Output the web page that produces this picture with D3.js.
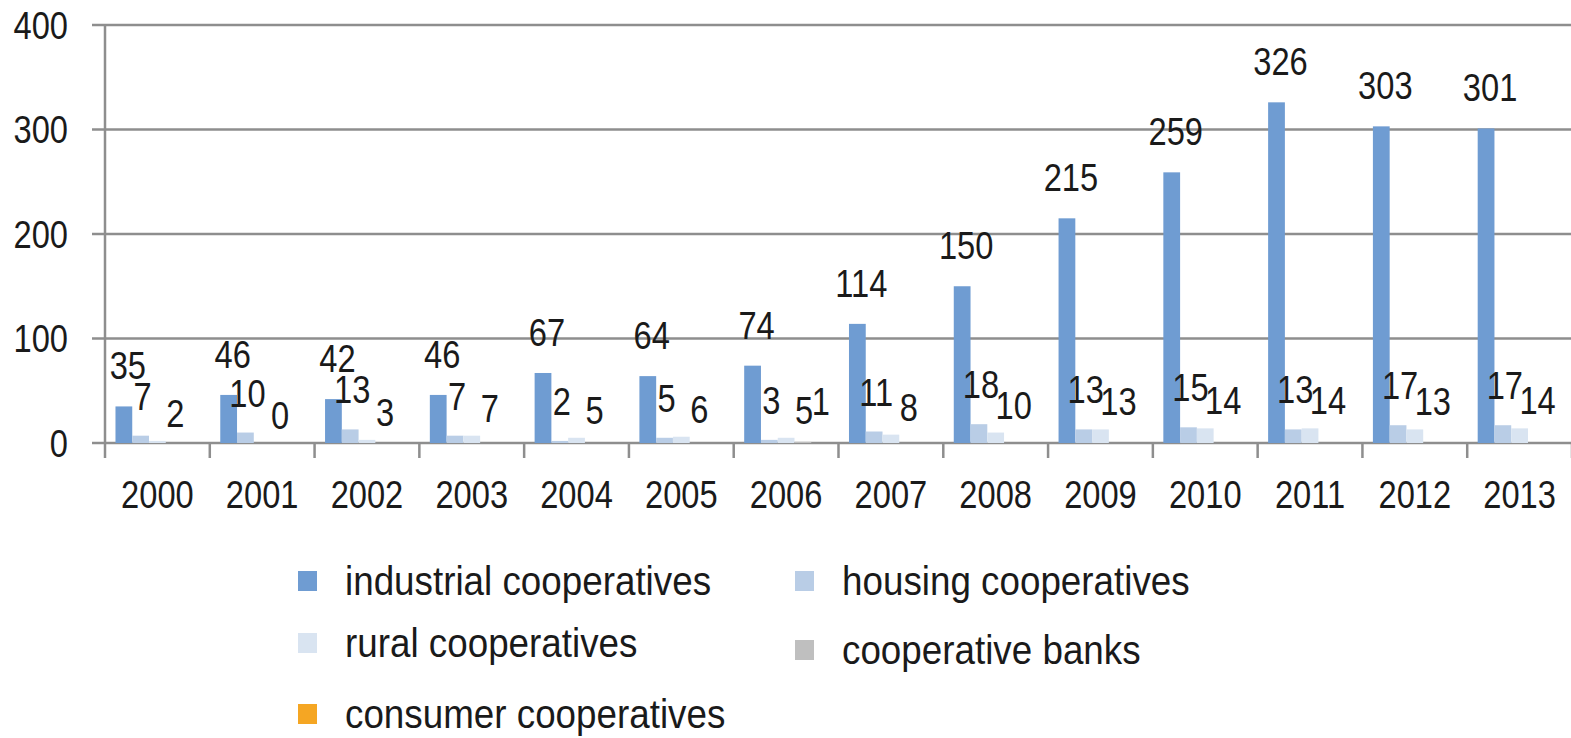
<!DOCTYPE html>
<html>
<head>
<meta charset="utf-8">
<script src="https://cdn.jsdelivr.net/npm/d3@7"></script>
<style>
  body { margin: 0; background: #fff; }
  svg text { font-family: "Liberation Sans", Arial, sans-serif; fill: #1a1a1a; }
</style>
</head>
<body>
<svg id="chart" width="1571" height="738"></svg>
<script>
// data
const years = ["2000", "2001", "2002", "2003", "2004", "2005", "2006", "2007", "2008", "2009", "2010", "2011", "2012", "2013"];
const seriesNames = ["industrial cooperatives", "housing cooperatives", "rural cooperatives", "cooperative banks", "consumer cooperatives"];
const industrial = [35, 46, 42, 46, 67, 64, 74, 114, 150, 215, 259, 326, 303, 301];
const housing = [7, 10, 13, 7, 2, 5, 3, 11, 18, 13, 15, 13, 17, 17];
const rural = [2, 0, 3, 7, 5, 6, 5, 8, 10, 13, 14, 14, 13, 14];
const banks = [0, 0, 0, 0, 0, 0, 1, 0, 0, 0, 0, 0, 0, 0];
const consumer = [0, 0, 0, 0, 0, 0, 0, 0, 0, 0, 0, 0, 0, 0];
const yTicks = [0, 100, 200, 300, 400];

const colors = ["#6f9cd2", "#b9cde6", "#d9e4f1", "#bfbfbf", "#f5a623"];
const allSeries = [industrial, housing, rural, banks, consumer];

const svg = d3.select("#chart");

// the original text is a bit narrow, squeeze it horizontally
const placeText = (x, y, s = 0.86) => `translate(${x},${y}) scale(${s},1)`;

const x0 = d3.scaleBand()
    .domain(years)
    .range([105, 1572])
    .paddingInner(0.2)
    .paddingOuter(0.1);

const x1 = d3.scaleBand()
    .domain(d3.range(seriesNames.length))
    .range([0, x0.bandwidth()]);

const y = d3.scaleLinear()
    .domain([0, 400])
    .range([443, 25]);

const step = x0.step();
const slotLeft = d => x0(d) - step * 0.1;

// gridlines
svg.append("g")
    .selectAll("line")
    .data(yTicks)
    .join("line")
    .attr("x1", 92)
    .attr("x2", 1571)
    .attr("y1", d => y(d))
    .attr("y2", d => y(d))
    .attr("stroke", "#8e8e8e")
    .attr("stroke-width", 2.5);

// y axis line
svg.append("line")
    .attr("x1", 105).attr("x2", 105)
    .attr("y1", y(400)).attr("y2", 458)
    .attr("stroke", "#8e8e8e")
    .attr("stroke-width", 2.5);

// category tick marks
svg.append("g")
    .selectAll("line")
    .data(years)
    .join("line")
    .attr("x1", d => slotLeft(d) + step)
    .attr("x2", d => slotLeft(d) + step)
    .attr("y1", y(0))
    .attr("y2", 458)
    .attr("stroke", "#8e8e8e")
    .attr("stroke-width", 2.5);

// y labels
svg.append("g")
    .selectAll("text")
    .data(yTicks)
    .join("text")
    .attr("transform", d => placeText(68, y(d)))
    .attr("dy", "0.36em")
    .attr("text-anchor", "end")
    .style("font-size", "38px")
    .text(d => d);

// x labels
svg.append("g")
    .selectAll("text")
    .data(years)
    .join("text")
    .attr("transform", d => placeText(slotLeft(d) + step / 2, 508))
    .attr("text-anchor", "middle")
    .style("font-size", "38px")
    .text(d => d);

// bars
const groups = svg.append("g")
    .selectAll("g")
    .data(years)
    .join("g")
    .attr("transform", d => `translate(${x0(d)},0)`);

groups.selectAll("rect")
    .data((d, i) => allSeries.map((s, k) => ({ k, v: s[i] })))
    .join("rect")
    .attr("x", d => x1(d.k))
    .attr("width", x1.bandwidth())
    .attr("y", d => y(d.v))
    .attr("height", d => y(0) - y(d.v))
    .attr("fill", d => colors[d.k]);

// data labels
const labelData = [];
years.forEach((yr, i) => {
    labelData.push({ yr, k: 0, v: industrial[i], dx: 4, dy: -27 });
    labelData.push({ yr, k: 1, v: housing[i], dx: 2, dy: -26 });
    labelData.push({ yr, k: 2, v: rural[i], dx: 18, dy: -14 });
    if (banks[i] > 0) labelData.push({ yr, k: 3, v: banks[i], dx: 18, dy: -27 });
});

svg.append("g")
    .selectAll("text")
    .data(labelData)
    .join("text")
    .attr("transform", d => placeText(x0(d.yr) + x1(d.k) + x1.bandwidth() / 2 + d.dx, y(d.v) + d.dy))
    .attr("text-anchor", "middle")
    .style("font-size", "38px")
    .text(d => d.v);

// legend
const legendPos = [
    { x: 298, y: 581 },
    { x: 795, y: 581 },
    { x: 298, y: 643 },
    { x: 795, y: 650 },
    { x: 298, y: 714 }
];

const legend = svg.append("g")
    .selectAll("g")
    .data(seriesNames)
    .join("g")
    .attr("transform", (d, i) => `translate(${legendPos[i].x},${legendPos[i].y})`);

legend.append("rect")
    .attr("x", 0)
    .attr("y", -10)
    .attr("width", 19)
    .attr("height", 20)
    .attr("fill", (d, i) => colors[i]);

legend.append("text")
    .attr("transform", placeText(47, 0, 0.92))
    .attr("dy", "0.35em")
    .style("font-size", "40px")
    .text(d => d);
</script>
</body>
</html>
